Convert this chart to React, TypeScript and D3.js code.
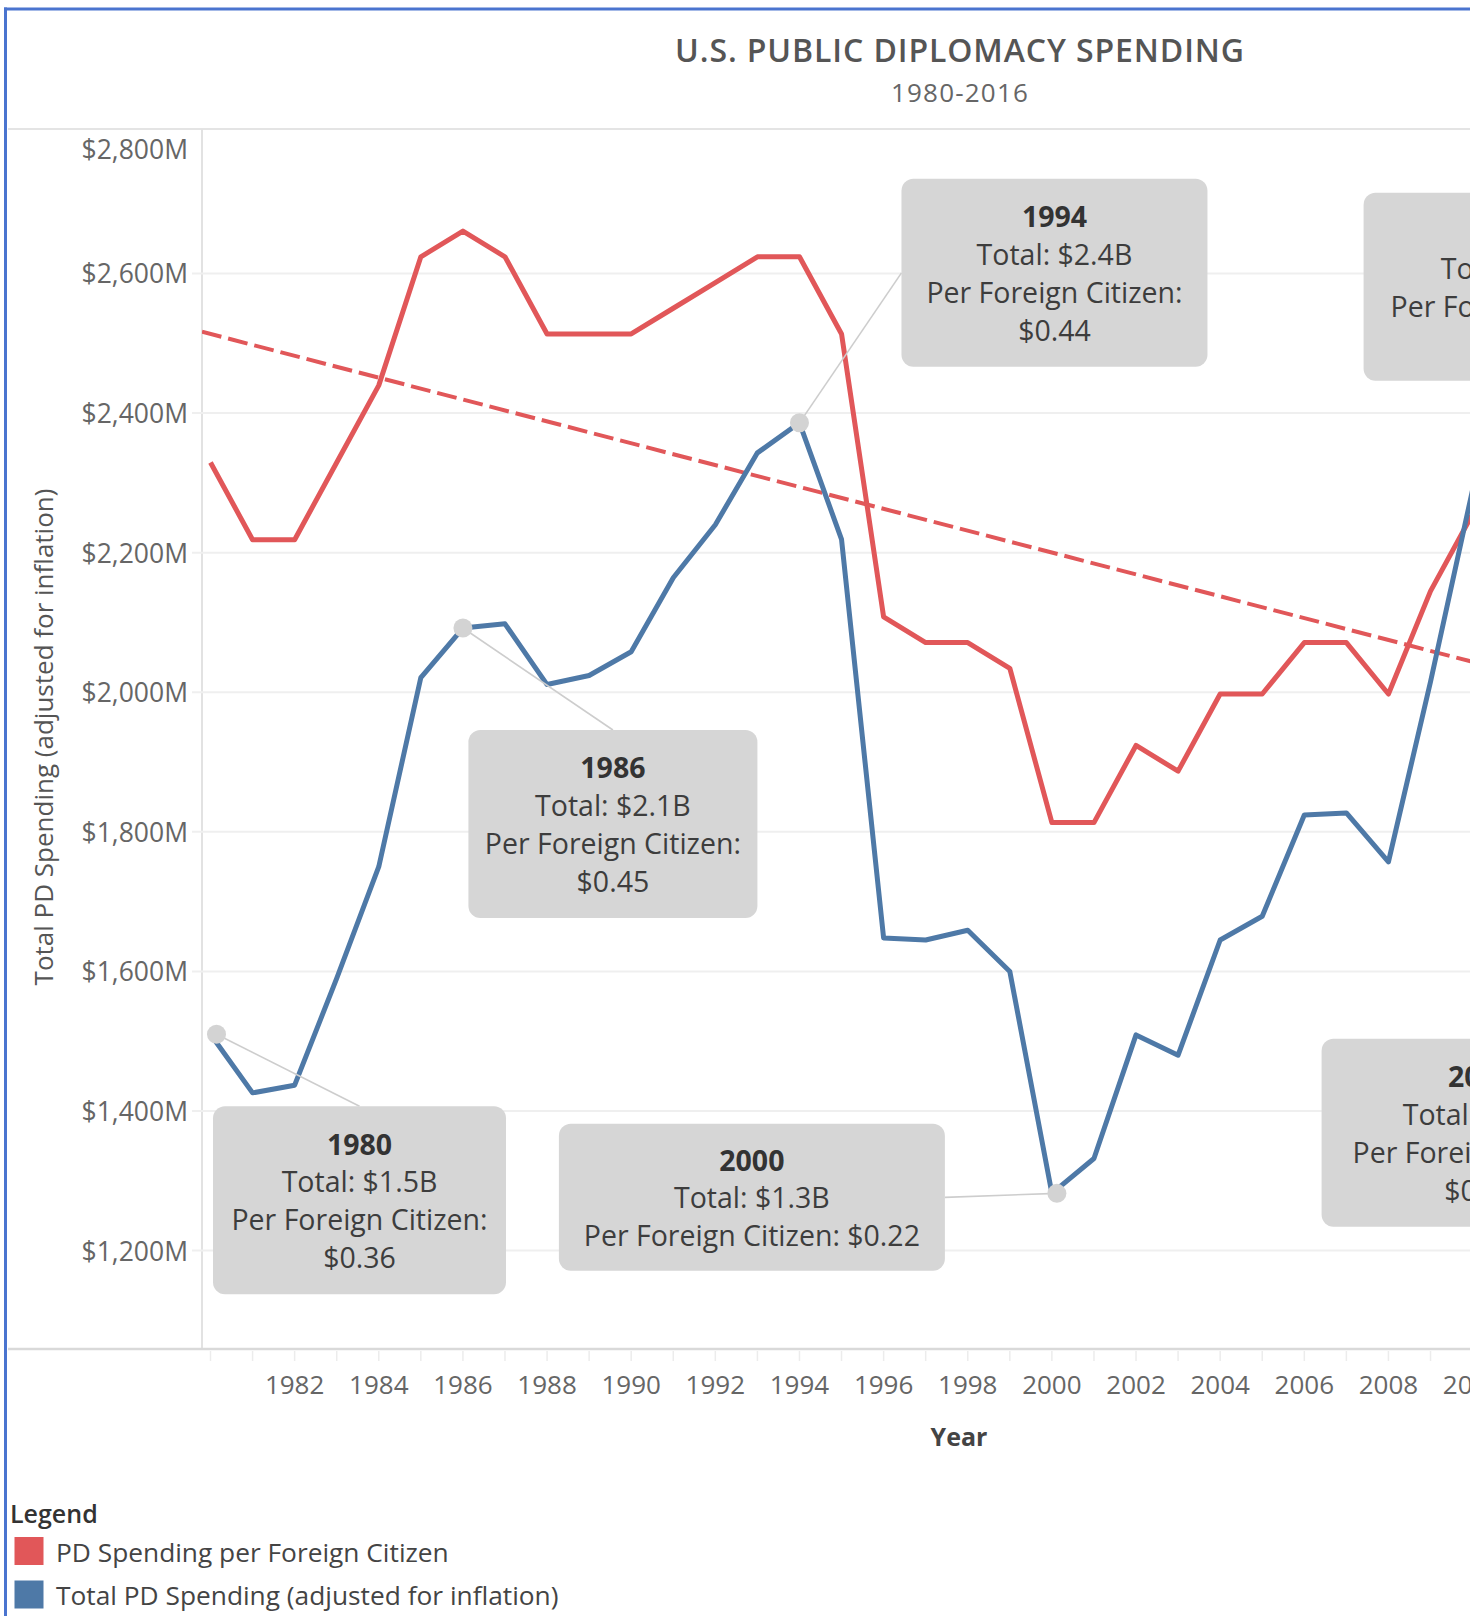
import React from 'react';
import * as d3 from 'd3';

// ---------- data ----------
const years = [1980, 1981, 1982, 1983, 1984, 1985, 1986, 1987, 1988, 1989, 1990, 1991, 1992, 1993, 1994, 1995, 1996, 1997, 1998, 1999, 2000, 2001, 2002, 2003, 2004, 2005, 2006, 2007, 2008, 2009, 2010];
// Total PD spending, adjusted for inflation ($M)
const totalSpending = [1510, 1426, 1437, 1590, 1750, 2021, 2092, 2098, 2011, 2024, 2058, 2164, 2240, 2343, 2386, 2219, 1648, 1645, 1659, 1600, 1282, 1332, 1509, 1480, 1645, 1679, 1824, 1827, 1757, 2015, 2290];
// PD spending per foreign citizen ($)
const perCitizen = [0.36, 0.33, 0.33, 0.36, 0.39, 0.44, 0.45, 0.44, 0.41, 0.41, 0.41, 0.42, 0.43, 0.44, 0.44, 0.41, 0.30, 0.29, 0.29, 0.28, 0.22, 0.22, 0.25, 0.24, 0.27, 0.27, 0.29, 0.29, 0.27, 0.31, 0.34];
const yTicks = [1200, 1400, 1600, 1800, 2000, 2200, 2400, 2600, 2800];
const xTickYears = [1982, 1984, 1986, 1988, 1990, 1992, 1994, 1996, 1998, 2000, 2002, 2004, 2006, 2008, 2010];
const trendYears = [1980, 2016];
const trendValues = [0.410, 0.257];

const annotationYears = [1980, 1986, 1994, 2000, 2010, 2010];
const annotationLines = [
  ['1980', 'Total: $1.5B', 'Per Foreign Citizen:', '$0.36'],
  ['1986', 'Total: $2.1B', 'Per Foreign Citizen:', '$0.45'],
  ['1994', 'Total: $2.4B', 'Per Foreign Citizen:', '$0.44'],
  ['2000', 'Total: $1.3B', 'Per Foreign Citizen: $0.22'],
  ['2010', 'Total: $2.3B', 'Per Foreign Citizen:', '$0.34'],
  ['2016', 'Total: $2.0B', 'Per Foreign Citizen:', '$0.27'],
];

const legendLabels = ['PD Spending per Foreign Citizen', 'Total PD Spending (adjusted for inflation)'];

// ---------- layout / style ----------
const W = 1470;
const H = 1616;
const paneLeft = 202;
const paneRight = 1733;
const paneTop = 129;
const paneBottom = 1349;
const RED = '#e15759';
const BLUE = '#4e79a7';
const FONT = '"Open Sans", "Noto Sans", sans-serif';
const LINE_H = 37.8;

// annotation box layout: offset of box centre from the anchor point, box size, leader side, dot shown
const annoLayout = [
  { dx: 149, dy: 166, w: 293, h: 188, leader: 'top', dot: true, dotDx: 6 },
  { dx: 150, dy: 196, w: 289, h: 188, leader: 'top', dot: true, dotDx: 0 },
  { dx: 255, dy: -150, w: 306, h: 188, leader: 'left', dot: true, dotDx: 0 },
  { dx: -300, dy: 4, w: 386, h: 147, leader: 'right', dot: true, dotDx: 5 },
  { dx: 46, dy: -203, w: 310, h: 188, leader: null, dot: false, dotDx: 0 },
  { dx: 8, dy: 643, w: 318, h: 188, leader: null, dot: false, dotDx: 0 },
];

export default function App() {
  const x = d3.scaleLinear().domain([1980, 2016]).range([210.5, 1725]);
  const yL = d3.scaleLinear().domain([1059, 2807]).range([paneBottom, paneTop]);
  const yR = d3.scaleLinear().domain([0.0153, 0.4897]).range([paneBottom, paneTop]);

  const blueLine = d3.line<number>().x((_, i) => x(years[i])).y((d) => yL(d));
  const redLine = d3.line<number>().x((_, i) => x(years[i])).y((d) => yR(d));

  const trendFn = d3.scaleLinear().domain(trendYears).range(trendValues);
  const tY0 = x.invert(paneLeft);
  const tY1 = x.invert(paneRight);

  const allTicks = d3.range(1980, 2011);

  return (
    <div style={{ position: 'fixed', left: 0, top: 0, width: W, height: H, overflow: 'hidden', background: '#fff' }}>
      <svg width={W} height={H} style={{ display: 'block', fontFamily: FONT }}>
        <defs>
          <clipPath id="pane">
            <rect x={paneLeft} y={paneTop} width={paneRight - paneLeft} height={paneBottom - paneTop} />
          </clipPath>
        </defs>
        <rect x={0} y={0} width={W} height={H} fill="#fff" />

        {/* title */}
        <text x={960} y={49} textAnchor="middle" dominantBaseline="central" fontSize={32} fontWeight={600} letterSpacing={0.9} fill="#555">
          U.S. PUBLIC DIPLOMACY SPENDING
        </text>
        <text x={960} y={92} textAnchor="middle" dominantBaseline="central" fontSize={26} letterSpacing={1.2} fill="#666">
          1980-2016
        </text>

        {/* frame lines */}
        <line x1={8} x2={W} y1={paneTop} y2={paneTop} stroke="#e4e4e4" strokeWidth={2} />
        <line x1={paneLeft} x2={paneLeft} y1={paneTop} y2={paneBottom} stroke="#e2e2e2" strokeWidth={2} />

        {/* gridlines */}
        {yTicks.filter((t) => yL(t) > paneTop + 20).map((t) => (
          <line key={'g' + t} x1={192} x2={W} y1={yL(t)} y2={yL(t)} stroke="#efefef" strokeWidth={2} />
        ))}

        {/* y tick labels */}
        {yTicks.map((t) => (
          <text key={'yt' + t} x={188} y={Math.max(yL(t), paneTop + 20)} textAnchor="end" dominantBaseline="central" fontSize={26.5} fill="#666">
            {'$' + d3.format(',')(t) + 'M'}
          </text>
        ))}

        {/* y axis title */}
        <text transform={`translate(43,737) rotate(-90)`} textAnchor="middle" dominantBaseline="central" fontSize={26} fill="#555">
          Total PD Spending (adjusted for inflation)
        </text>

        {/* x axis */}
        <line x1={8} x2={W} y1={paneBottom} y2={paneBottom} stroke="#d9d9d9" strokeWidth={2.5} />
        {allTicks.map((t) => (
          <line key={'xt' + t} x1={x(t)} x2={x(t)} y1={paneBottom + 2} y2={paneBottom + 12} stroke="#ececec" strokeWidth={1.5} />
        ))}
        {xTickYears.map((t) => (
          <text key={'xl' + t} x={x(t)} y={1384} textAnchor="middle" dominantBaseline="central" fontSize={26} fill="#666">
            {t}
          </text>
        ))}
        <text x={959} y={1436} textAnchor="middle" dominantBaseline="central" fontSize={25} fontWeight={700} fill="#444">
          Year
        </text>

        {/* marks */}
        <g clipPath="url(#pane)">
          <line
            x1={x(tY0)} y1={yR(trendFn(tY0))} x2={x(tY1)} y2={yR(trendFn(tY1))}
            stroke={RED} strokeWidth={4} strokeDasharray="20 7"
          />
          <path d={redLine(perCitizen) || ''} fill="none" stroke={RED} strokeWidth={5} strokeLinejoin="round" />
          <path d={blueLine(totalSpending) || ''} fill="none" stroke={BLUE} strokeWidth={5} strokeLinejoin="round" />
        </g>

        {/* annotations */}
        {annotationYears.map((yr, i) => {
          const L = annoLayout[i];
          const idx = years.indexOf(yr);
          const px = x(yr);
          const py = yL(totalSpending[idx]);
          const cx = px + L.dx;
          const cy = py + L.dy;
          const bx = cx - L.w / 2;
          const by = cy - L.h / 2;
          let lx = cx, ly = by;
          if (L.leader === 'left') { lx = bx; ly = cy; }
          if (L.leader === 'right') { lx = bx + L.w; ly = cy; }
          const lines = annotationLines[i];
          return (
            <g key={'a' + i}>
              {L.leader && <line x1={px + L.dotDx} y1={py} x2={lx} y2={ly} stroke="#cdcdcd" strokeWidth={1.6} />}
              {L.dot && <circle cx={px + L.dotDx} cy={py} r={9.5} fill="#d3d3d3" />}
              <rect x={bx} y={by} width={L.w} height={L.h} rx={12} ry={12} fill="#d6d6d6" />
              {lines.map((s, j) => (
                <text
                  key={j}
                  x={cx}
                  y={cy + (j - (lines.length - 1) / 2) * LINE_H}
                  textAnchor="middle"
                  dominantBaseline="central"
                  fontSize={28.5}
                  fontWeight={j === 0 ? 700 : 400}
                  fill={j === 0 ? '#333' : '#3d3d3d'}
                >
                  {s}
                </text>
              ))}
            </g>
          );
        })}

        {/* legend */}
        <text x={10} y={1513} dominantBaseline="central" fontSize={25} fontWeight={600} fill="#333">Legend</text>
        {legendLabels.map((s, i) => (
          <g key={'lg' + i}>
            <rect x={14.5} y={1537 + i * 43.5} width={29} height={28} fill={i === 0 ? RED : BLUE} />
            <text x={56} y={1551.5 + i * 43.5} dominantBaseline="central" fontSize={26.3} fill="#444">{s}</text>
          </g>
        ))}

        {/* blue screenshot border */}
        <line x1={5.5} x2={5.5} y1={7.5} y2={H} stroke="#4a74cf" strokeWidth={3} />
        <line x1={4} x2={W} y1={9} y2={9} stroke="#4a74cf" strokeWidth={3} />
      </svg>
    </div>
  );
}
